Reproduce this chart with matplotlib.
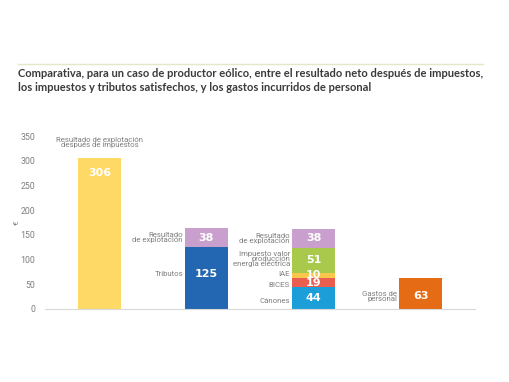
import matplotlib
matplotlib.use("Agg")
from matplotlib import pyplot as plt
from matplotlib.lines import Line2D

# data
titulo = ("Comparativa, para un caso de productor eólico, entre el resultado neto después de impuestos,\n"
          "los impuestos y tributos satisfechos, y los gastos incurridos de personal")
resultado_neto = 306
tributos = 125
res_explot = 38
canones = 44
bices = 19
iae = 10
ivpee = 51
gastos_personal = 63

grey = "#7f7f7f"
narrow = ["Roboto", "DejaVu Sans"]

fig = plt.figure(figsize=(5.1, 3.82), dpi=100)
fig.add_artist(Line2D([18 / 510, 483 / 510], [1 - 64 / 382, 1 - 64 / 382], color="#e3e8c6", lw=1))
fig.text(18 / 510, 1 - 68 / 382, titulo, ha="left", va="top", fontsize=8.0, fontweight="bold",
         color="#3a3a3a", family="Lato", linespacing=1.3)

ax = fig.add_axes([45 / 510, 1 - 309 / 382, 430 / 510, 173 / 382])
ax.set_ylim(0, 350)
ax.set_xlim(-0.509, 3.509)
w = 0.40

# bar 1
ax.bar(0, resultado_neto, w, color="#ffd965")
# bar 2
ax.bar(1, tributos, w, color="#2366b1")
ax.bar(1, res_explot, w, bottom=tributos, color="#c9a0cd")
# bar 3
segs = [(canones, "#1c9ed9"), (bices, "#ea5e4f"), (iae, "#f9c74b"), (ivpee, "#a9c94c"), (res_explot, "#c9a0cd")]
bot = 0
mids = []
for v, c in segs:
    ax.bar(2, v, w, bottom=bot, color=c)
    mids.append(bot + v / 2)
    bot += v
# bar 4
ax.bar(3, gastos_personal, w, color="#e56c14")

num = dict(ha="center", va="center", color="white", fontweight="bold", fontsize=8, family="DejaVu Sans")
ax.text(0, resultado_neto - 30, str(resultado_neto), **num)
ax.text(1, tributos / 2 + 8, str(tributos), **num)
ax.text(1, tributos + res_explot / 2, str(res_explot), **num)
for (v, c), m in zip(segs, mids):
    ax.text(2, m, str(v), **num)
ax.text(3, gastos_personal / 2 - 6, str(gastos_personal), **num)

lab = dict(color=grey, fontsize=5.6, family=narrow, linespacing=0.8)
ax.text(0, 337, "Resultado de explotación\ndespués de impuestos", ha="center", va="center", **lab)
ax.text(1 - 0.22, tributos + res_explot / 2, "Resultado\nde explotación", ha="right", va="center", **lab)
ax.text(1 - 0.22, tributos / 2 + 8, "Tributos", ha="right", va="center", **lab)
ax.text(2 - 0.22, mids[4], "Resultado\nde explotación", ha="right", va="center", **lab)
ax.text(2 - 0.22, mids[3] + 2, "Impuesto valor\nproducción\nenergía eléctrica", ha="right", va="center", **lab)
ax.text(2 - 0.22, mids[2] + 2, "IAE", ha="right", va="center", **lab)
ax.text(2 - 0.22, mids[1] - 4, "BICES", ha="right", va="center", **lab)
ax.text(2 - 0.22, mids[0] - 6, "Cánones", ha="right", va="center", **lab)
ax.text(3 - 0.22, gastos_personal / 2 - 6, "Gastos de\npersonal", ha="right", va="center", **lab)

ax.set_yticks(range(0, 351, 50))
ax.set_xticks([])
ax.tick_params(axis="y", length=0, labelsize=6.3, labelcolor=grey, pad=7)
for t in ax.get_yticklabels():
    t.set_family(narrow)
for s in ["top", "right", "left"]:
    ax.spines[s].set_visible(False)
ax.spines["bottom"].set_color("#d9d9d9")
ax.set_ylabel("€", color=grey, fontsize=6, labelpad=0, family=narrow)
ax.yaxis.set_label_coords(-25 / 430, 0.5)

fig.savefig("out.png", dpi=100)
